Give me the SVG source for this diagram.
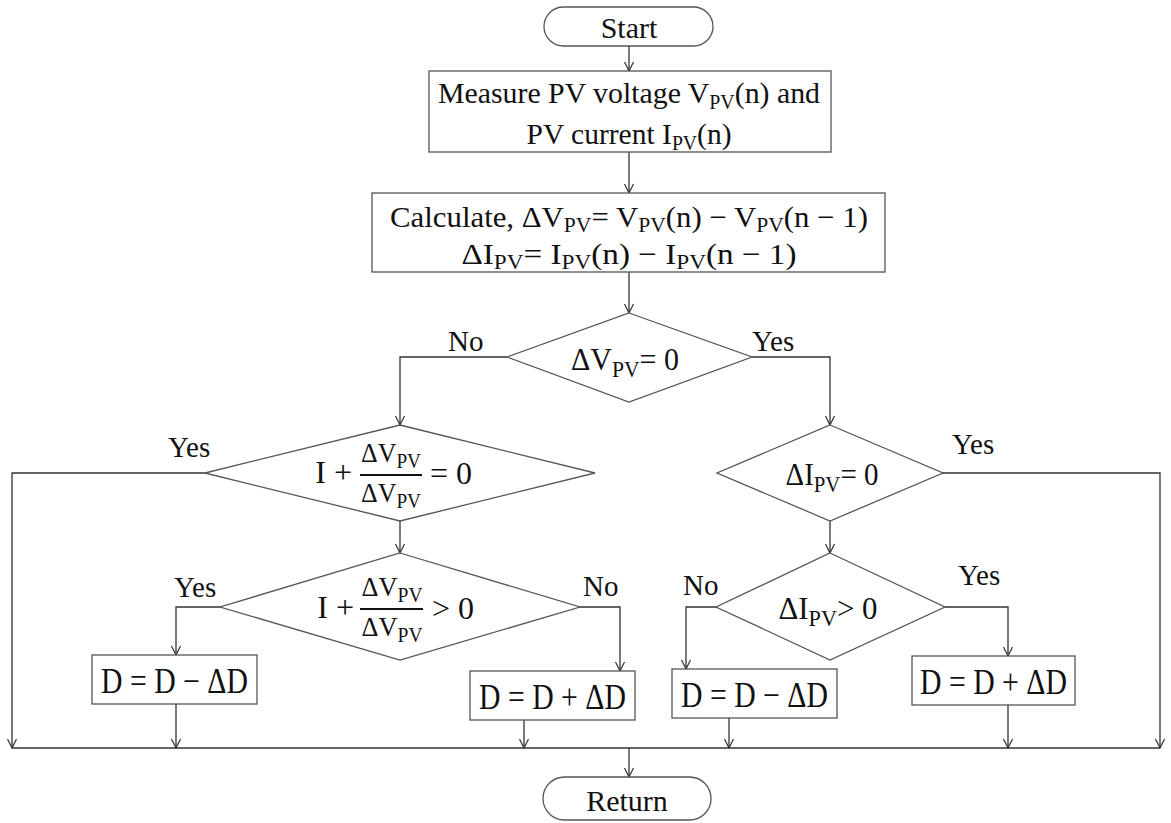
<svg xmlns="http://www.w3.org/2000/svg" width="1171" height="823" viewBox="0 0 1171 823">
<style>
.shape{fill:#fff;stroke:#555;stroke-width:1.3}
.con{fill:none;stroke:#333;stroke-width:1.3}
.t{font-family:"Liberation Serif","Times New Roman",serif;fill:#111;font-size:30px}
.m{font-family:"Liberation Serif","Times New Roman",serif;fill:#111;font-size:32px}
.c{font-size:30px}
.sub{font-size:20px}
.msub{font-size:23px}
.csub{font-size:21px}
.lbl{font-family:"Liberation Serif","Times New Roman",serif;fill:#111;font-size:29px}
.fr{font-size:27px}
.frs{font-size:20px}
.bar{stroke:#111;stroke-width:2.2}
.d{font-size:35px}
</style>
<defs>
<marker id="arr" viewBox="-11 -6 12 12" refX="0" refY="0" markerWidth="12" markerHeight="12" markerUnits="userSpaceOnUse" orient="auto">
<path d="M-9,-4.5 L0,0 L-9,4.5" fill="none" stroke="#333" stroke-width="1.2"/>
</marker>
</defs>
<rect width="1171" height="823" fill="#fff"/>

<g id="connectors">
<path class="con" d="M629,46 V71" marker-end="url(#arr)"/>
<path class="con" d="M629,152 V193" marker-end="url(#arr)"/>
<path class="con" d="M629,272 V313" marker-end="url(#arr)"/>
<path class="con" d="M507,357 H400 V425" marker-end="url(#arr)"/>
<path class="con" d="M752,357 H830 V425" marker-end="url(#arr)"/>
<path class="con" d="M205,473 H12 V748" marker-end="url(#arr)"/>
<path class="con" d="M400,521 V553" marker-end="url(#arr)"/>
<path class="con" d="M943,473 H1160 V748" marker-end="url(#arr)"/>
<path class="con" d="M830,521 V553" marker-end="url(#arr)"/>
<path class="con" d="M220,607 H176 V655" marker-end="url(#arr)"/>
<path class="con" d="M580,607 H620 V671" marker-end="url(#arr)"/>
<path class="con" d="M716,607 H686 V669" marker-end="url(#arr)"/>
<path class="con" d="M945,607 H1008 V656" marker-end="url(#arr)"/>
<path class="con" d="M176,704 V748" marker-end="url(#arr)"/>
<path class="con" d="M524,705 V748" marker-end="url(#arr)"/>
<path class="con" d="M729,707 V748" marker-end="url(#arr)"/>
<path class="con" d="M1008,705 V748" marker-end="url(#arr)"/>
<path class="con" d="M12,748 H1160" stroke-width="1.7"/>
<path class="con" d="M629,748 V777" marker-end="url(#arr)"/>
<text class="lbl" x="448" y="351">No</text>
<text class="lbl" x="752" y="351">Yes</text>
<text class="lbl" x="168" y="457">Yes</text>
<text class="lbl" x="952" y="454">Yes</text>
<text class="lbl" x="174" y="597">Yes</text>
<text class="lbl" x="583" y="596">No</text>
<text class="lbl" x="683" y="595">No</text>
<text class="lbl" x="958" y="585">Yes</text>
</g>

<g id="start">
<rect class="shape" x="544" y="7" width="169" height="39" rx="19.5"/>
<text class="t" x="629" y="38" text-anchor="middle" font-size="31">Start</text>
</g>

<g id="measure">
<rect class="shape" x="429" y="71" width="402" height="81"/>
<text class="t" x="629" y="103" text-anchor="middle" textLength="382" lengthAdjust="spacingAndGlyphs">Measure PV voltage V<tspan class="sub" dy="6">PV</tspan><tspan dy="-6">(n) and</tspan></text>
<text class="t" x="629" y="144" text-anchor="middle" textLength="205" lengthAdjust="spacingAndGlyphs">PV current I<tspan class="sub" dy="6">PV</tspan><tspan dy="-6">(n)</tspan></text>
</g>

<g id="calculate">
<rect class="shape" x="372" y="193" width="513" height="79"/>
<text class="m c" x="629" y="227" text-anchor="middle" textLength="478" lengthAdjust="spacingAndGlyphs">Calculate, ΔV<tspan class="csub" dy="5">PV</tspan><tspan dy="-5">= V</tspan><tspan class="csub" dy="5">PV</tspan><tspan dy="-5">(n) − V</tspan><tspan class="csub" dy="5">PV</tspan><tspan dy="-5">(n − 1)</tspan></text>
<text class="m c" x="629" y="264" text-anchor="middle" textLength="335" lengthAdjust="spacingAndGlyphs">ΔI<tspan class="csub" dy="5">PV</tspan><tspan dy="-5">= I</tspan><tspan class="csub" dy="5">PV</tspan><tspan dy="-5">(n) − I</tspan><tspan class="csub" dy="5">PV</tspan><tspan dy="-5">(n − 1)</tspan></text>
</g>

<g id="dec-dv0">
<polygon class="shape" points="629,313 752,357 629,402 507,357"/>
<text class="m" x="625" y="370" text-anchor="middle" textLength="108" lengthAdjust="spacingAndGlyphs">ΔV<tspan class="msub" dy="7">PV</tspan><tspan dy="-7">= 0</tspan></text>
</g>

<g id="dec-inc0">
<polygon class="shape" points="400,425 595,473 400,521 205,473"/>
<text class="m" x="352" y="483" text-anchor="end">I +</text>
<text class="m fr" x="391" y="462" text-anchor="middle" textLength="60" lengthAdjust="spacingAndGlyphs">ΔV<tspan class="frs" dy="6">PV</tspan></text>
<line class="bar" x1="360" y1="475" x2="422" y2="475"/>
<text class="m fr" x="391" y="502" text-anchor="middle" textLength="60" lengthAdjust="spacingAndGlyphs">ΔV<tspan class="frs" dy="6">PV</tspan></text>
<text class="m" x="430" y="484">= 0</text>
</g>

<g id="dec-di0">
<polygon class="shape" points="830,425 943,473 830,521 717,473"/>
<text class="m" x="832" y="485" text-anchor="middle" textLength="93" lengthAdjust="spacingAndGlyphs">ΔI<tspan class="msub" dy="7">PV</tspan><tspan dy="-7">= 0</tspan></text>
</g>

<g id="dec-incgt">
<polygon class="shape" points="400,553 580,607 400,660 220,607"/>
<text class="m" x="354" y="618" text-anchor="end">I +</text>
<text class="m fr" x="392" y="596" text-anchor="middle" textLength="61" lengthAdjust="spacingAndGlyphs">ΔV<tspan class="frs" dy="6">PV</tspan></text>
<line class="bar" x1="360" y1="609" x2="423" y2="609"/>
<text class="m fr" x="392" y="636" text-anchor="middle" textLength="61" lengthAdjust="spacingAndGlyphs">ΔV<tspan class="frs" dy="6">PV</tspan></text>
<text class="m" x="432" y="619">&gt; 0</text>
</g>

<g id="dec-digt">
<polygon class="shape" points="830,553 945,607 830,660 716,607"/>
<text class="m" x="828" y="619" text-anchor="middle" textLength="99" lengthAdjust="spacingAndGlyphs">ΔI<tspan class="msub" dy="7">PV</tspan><tspan dy="-7">&gt; 0</tspan></text>
</g>

<g id="box-a">
<rect class="shape" x="92" y="655" width="165" height="49"/>
<text class="m d" x="174.5" y="693" text-anchor="middle" textLength="147" lengthAdjust="spacingAndGlyphs">D = D − ΔD</text>
</g>

<g id="box-b">
<rect class="shape" x="470" y="671" width="165" height="49"/>
<text class="m d" x="552.5" y="709" text-anchor="middle" textLength="147" lengthAdjust="spacingAndGlyphs">D = D + ΔD</text>
</g>

<g id="box-c">
<rect class="shape" x="672" y="669" width="165" height="49"/>
<text class="m d" x="754.5" y="707" text-anchor="middle" textLength="147" lengthAdjust="spacingAndGlyphs">D = D − ΔD</text>
</g>

<g id="box-d">
<rect class="shape" x="912" y="656" width="163" height="49"/>
<text class="m d" x="993.5" y="694" text-anchor="middle" textLength="147" lengthAdjust="spacingAndGlyphs">D = D + ΔD</text>
</g>

<g id="return">
<rect class="shape" x="543" y="777" width="168" height="43" rx="21.5"/>
<text class="t" x="627" y="811" text-anchor="middle">Return</text>
</g>
</svg>
